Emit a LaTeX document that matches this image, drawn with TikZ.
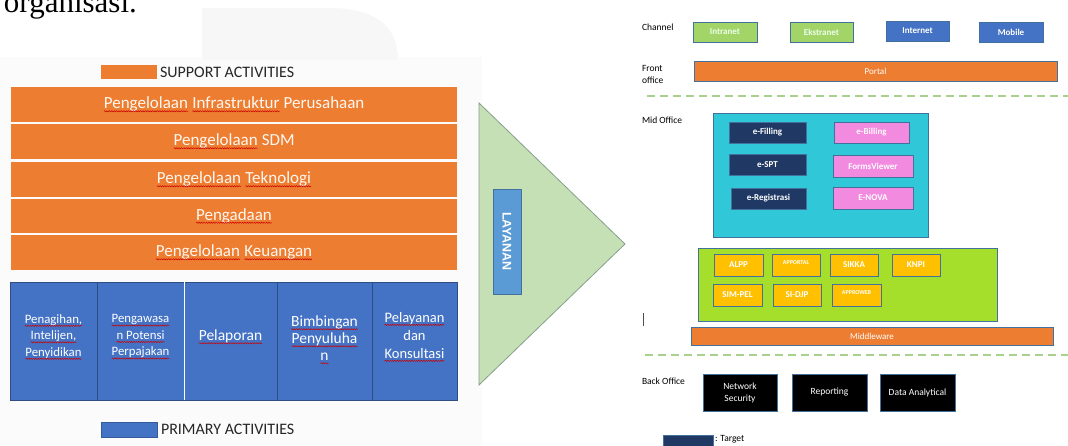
\documentclass[tikz,border=0pt]{standalone}
\usepackage{fontspec}
\setmainfont{Carlito}
\newfontfamily\tnr{Liberation Serif}
\newfontfamily\arl{Liberation Sans}
\usetikzlibrary{decorations.pathmorphing}
\newcommand\wvy[1]{\tikz[baseline=(w.base)]{\node[inner sep=0pt,outer sep=0pt,minimum width=0pt,minimum height=0pt,fill=none,draw=none,rotate=0](w){#1}; \draw[red!80!black, line width=.5pt, decorate, decoration={snake, amplitude=.6pt, segment length=2.4pt}] ([yshift=-2.6pt]w.base west) -- ([yshift=-2.6pt]w.base east);}}
\definecolor{cOr}{HTML}{ED7D31}
\definecolor{cBl}{HTML}{4472C4}
\definecolor{cBlB}{HTML}{2F4D80}
\definecolor{cBd}{HTML}{41719C}
\definecolor{cTri}{HTML}{C5E0B4}
\definecolor{cTriB}{HTML}{86A08C}
\definecolor{cLay}{HTML}{5B9BD5}
\definecolor{cLg}{HTML}{A3D468}
\definecolor{cCy}{HTML}{30C8D8}
\definecolor{cNv}{HTML}{203864}
\definecolor{cPk}{HTML}{F28AE0}
\definecolor{cLm}{HTML}{A6DE2C}
\definecolor{cGd}{HTML}{FFC000}
\definecolor{cDash}{HTML}{A9D18E}
\newcommand\bx[7]{\node[#6, minimum width={(#4-#2)*1pt}, minimum height={(#5-#3)*1pt}] (#1) at ({(#2+#4)/2},{(#3+#5)/2}) {#7};}
\begin{document}
\begin{tikzpicture}[x=1pt,y=-1pt,
  every node/.style={inner sep=0pt, outer sep=0pt},
  orbar/.style={fill=cOr, text=white!94!orange, font=\fontsize{17}{20}\selectfont},
  pbox/.style={fill=cBl, draw=cBlB, line width=.8pt},
  ptext/.style={text=white, align=center},
  lbl/.style={font=\fontsize{9.5}{12}\selectfont, anchor=west, align=left},
  rbox/.style={draw=cBd, line width=.7pt, text=white, font=\bfseries\fontsize{9}{11}\selectfont, align=center},
  chg/.style={rbox, fill=cLg, text=white!92!green},
  chb/.style={rbox, fill=cBl},
  orb/.style={rbox, fill=cOr, font=\fontsize{9}{11}\selectfont},
  nvb/.style={rbox, fill=cNv},
  pkb/.style={rbox, fill=cPk},
  gdb/.style={rbox, fill=cGd},
  blk/.style={rbox, fill=black, font=\fontsize{9.5}{12}\selectfont},
  sepline/.style={cDash, line width=2.6pt, dash pattern=on 8pt off 5pt},
  legtext/.style={anchor=west, font=\fontsize{16}{18}\selectfont, text=black!85}
]
\useasboundingbox (0,0) rectangle (1068,446);
\clip (0,0) rectangle (1068,446);
% faint backgrounds
\fill[black!1.5] (0,57) rectangle (482,446);
\fill[black!3] (202,60) -- (202,8) -- (330,8) .. controls (380,8) and (398,30) .. (398,60) -- cycle;
\node[font=\tnr\fontsize{31}{31}\selectfont, anchor=base west] (org) at (4,13) {organisasi.};

% support legend
\bx{suplg}{101}{65}{157}{79}{fill=cOr}{}
\node[legtext] (suptx) at (160,72) {SUPPORT ACTIVITIES};

% support bars
\bx{s1}{11}{87}{457}{122}{orbar}{\wvy{Pengelolaan} \wvy{Infrastruktur} Perusahaan}
\bx{s2}{11}{124}{457}{159}{orbar}{\wvy{Pengelolaan} SDM}
\bx{s3}{11}{162}{457}{197}{orbar}{\wvy{Pengelolaan} \wvy{Teknologi}}
\bx{s4}{11}{199}{457}{233}{orbar}{\wvy{Pengadaan}}
\bx{s5}{11}{235}{457}{270}{orbar}{\wvy{Pengelolaan} \wvy{Keuangan}}

% primary boxes
\bx{p1}{10}{282}{97}{400}{pbox}{}
\bx{p2}{97}{282}{184}{400}{pbox}{}
\bx{p3}{184}{282}{277}{400}{pbox}{}
\bx{p4}{277}{282}{372}{400}{pbox}{}
\bx{p5}{372}{282}{457}{400}{pbox}{}
\draw[white, line width=1pt] (p2.north east) -- (p2.south east);
\node[ptext, font=\fontsize{12.8}{16.5}\selectfont] (p1t) at ([yshift=4pt]p1.center) {\wvy{Penagihan,}\\\wvy{Intelijen,}\\\wvy{Penyidikan}};
\node[ptext, font=\fontsize{12.8}{16.5}\selectfont] (p2t) at ([yshift=4pt]p2.center) {\wvy{Pengawasa}\\\wvy{n Potensi}\\\wvy{Perpajakan}};
\node[ptext, font=\fontsize{15.5}{18}\selectfont] (p3t) at ([yshift=4pt]p3.center) {\wvy{Pelaporan}};
\node[ptext, font=\fontsize{15.5}{17}\selectfont] (p4t) at ([yshift=1pt]p4.center) {\wvy{Bimbingan}\\\wvy{Penyuluha}\\\wvy{n}};
\node[ptext, font=\fontsize{14.5}{18}\selectfont] (p5t) at ([yshift=4pt]p5.center) {\wvy{Pelayanan}\\dan\\\wvy{Konsultasi}};

% primary legend
\bx{prilg}{101}{422}{157}{437}{fill=cBl, draw=cBl!80!black, line width=.4pt}{}
\node[legtext] (pritx) at (161,429) {PRIMARY ACTIVITIES};

% triangle
\coordinate (t1) at (479,103);
\coordinate (t2) at (625,244);
\coordinate (t3) at (479,385);
\draw[fill=cTri, draw=cTriB, line width=.8pt] (t1) -- (t2) -- (t3) -- cycle;
\bx{lay}{493}{189}{521}{294}{fill=cLay, draw=cBd, line width=.6pt}{}
\node[rotate=-90, text=white, font=\arl\bfseries\fontsize{12.5}{14}\selectfont] (laytx) at (lay.center) {LAYANAN};

% right panel: channel
\node[lbl] (chl) at (642,27) {Channel};
\bx{intra}{693}{22}{757}{42}{chg}{Intranet}
\bx{ekstra}{790}{22}{853}{42}{chg}{Ekstranet}
\bx{inter}{886}{21}{949}{41}{chb}{Internet}
\bx{mobile}{979}{22}{1043}{42}{chb}{Mobile}

% front office
\node[lbl] (fol) at (642,74) {Front\\office};
\bx{portal}{694}{61}{1057}{81}{orb}{Portal}
\coordinate (d1a) at (647,96);
\coordinate (d1b) at (1070,96);
\draw[sepline] (d1a) -- (d1b);

% mid office
\node[lbl] (mol) at (642,120) {Mid Office};
\bx{mid}{713}{113}{928}{237}{fill=cCy, draw=cBd, line width=.7pt}{}
\bx{efil}{729}{122}{806}{143}{nvb}{e-Filling}
\bx{espt}{729}{154}{806}{175}{nvb}{e-SPT}
\bx{ereg}{731}{188}{806}{209}{nvb}{e-Registrasi}
\bx{ebil}{834}{122}{909}{143}{pkb, text=white!90!pink}{e-Billing}
\bx{forms}{833}{155}{913}{177}{pkb}{FormsViewer}
\bx{enova}{833}{187}{913}{209}{pkb}{E-NOVA}

% apps
\bx{apps}{698}{248}{997}{321}{fill=cLm, draw=cBd, line width=.7pt}{}
\bx{alpp}{714}{254}{763}{276}{gdb}{ALPP}
\bx{apportal}{772}{254}{820}{276}{gdb, font=\bfseries\fontsize{6}{7}\selectfont}{\raisebox{4pt}{APPORTAL}}
\bx{sikka}{830}{254}{878}{276}{gdb}{SIKKA}
\bx{knpi}{892}{254}{940}{276}{gdb}{KNPI}
\bx{simpel}{713}{284}{762}{306}{gdb}{SIM-PEL}
\bx{sidjp}{773}{284}{821}{306}{gdb}{SI-DJP}
\bx{approweb}{832}{284}{881}{306}{gdb, font=\bfseries\fontsize{6}{7}\selectfont}{\raisebox{4pt}{APPROWEB}}
\coordinate (cur1) at (643,313);
\coordinate (cur2) at (643,326);
\draw[black!70, line width=1pt] (cur1) -- (cur2);
\bx{midw}{691}{327}{1053}{345}{orb}{Middleware}
\coordinate (d2a) at (645,355);
\coordinate (d2b) at (1070,355);
\draw[sepline] (d2a) -- (d2b);

% back office
\node[lbl] (bol) at (642,381) {Back Office};
\bx{netsec}{703}{374}{777}{411}{blk}{Network\\Security}
\bx{report}{792}{374}{867}{411}{blk}{Reporting}
\bx{data}{880}{374}{955}{411}{blk}{Data Analytical}

% legend target
\bx{tgt}{663}{435}{713}{452}{fill=cNv, draw=cBd, line width=.6pt}{}
\node[lbl] (tgtx) at (715,439) {: Target};
\end{tikzpicture}
\end{document}
